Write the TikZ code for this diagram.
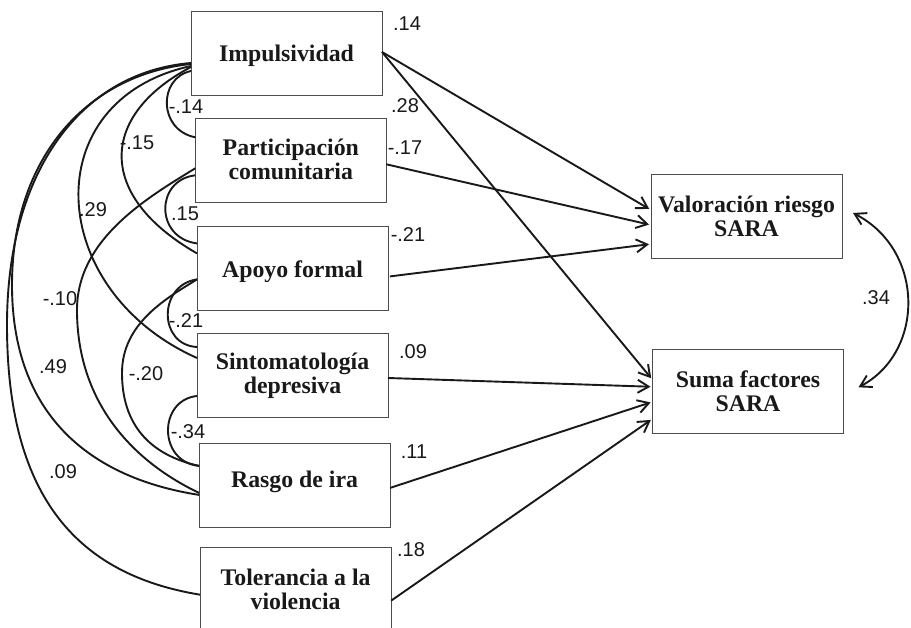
\documentclass[tikz,border=0pt]{standalone}
\usepackage{fontspec}
\setmainfont{Liberation Serif}
\newfontfamily\numfont{Liberation Sans}
\usetikzlibrary{arrows.meta}
\begin{document}
\begin{tikzpicture}[x=1pt,y=-1pt,
  varbox/.style={draw=black!70, line width=0.9pt, minimum width=191pt, minimum height=84pt,
    inner sep=0pt, outer sep=0pt},
  boxtext/.style={inner sep=0pt, align=center,
    font=\fontsize{23.8}{24}\selectfont\bfseries, text=black!90},
  coef/.style={font=\numfont\fontsize{20}{20}\selectfont, inner sep=0pt, text=black!90},
  cov/.style={line width=1.9pt, draw=black!90},
  barb/.tip={Straight Barb[length=11pt,width=13pt]},
  regarrow/.style={line width=1.9pt, draw=black!90, -barb, shorten >=2pt},
]
\clip (0,0) rectangle (911,628);

% variables
\node[varbox] (imp)   at (286.5,53)    {};
\node[varbox] (part)  at (290.8,160.3) {};
\node[varbox] (apoyo) at (292.5,268.4) {};
\node[varbox] (sinto) at (292.5,375.5) {};
\node[varbox] (rasgo) at (294.6,485.9) {};
\node[varbox] (tol)   at (295.6,589.7) {};
\node[varbox] (val)   at (746.5,216)   {};
\node[varbox] (suma)  at (748,391.8)   {};

\node[boxtext] (impt)   at ([yshift=-3pt]imp.center)   {Impulsividad};
\node[boxtext] (partt)  at ([yshift=1pt]part.center)   {Participación\\comunitaria};
\node[boxtext] (apoyot) at ([yshift=-3pt]apoyo.center) {Apoyo formal};
\node[boxtext] (sintot) at (sinto.center)              {Sintomatología\\depresiva};
\node[boxtext] (rasgot) at ([yshift=4pt]rasgo.center)  {Rasgo de ira};
\node[boxtext] (tolt)   at (tol.center)                {Tolerancia a la\\violencia};
\node[boxtext] (valt)   at (val.center)                {Valoración riesgo\\SARA};
\node[boxtext] (sumat)  at ([yshift=1pt]suma.center)   {Suma factores\\SARA};

% regression paths
\draw[regarrow] ([yshift=1pt]imp.east) -- ([yshift=6pt]val.west);
\draw[regarrow] ([yshift=1pt]imp.east) -- ([yshift=12pt]suma.west);
\draw[regarrow] ([yshift=-4pt]part.east) -- ([yshift=-9pt]val.west);
\draw[regarrow] ([xshift=2pt,yshift=-8pt]apoyo.east) -- ([yshift=-28pt]val.west);
\draw[regarrow] ([yshift=-2.5pt]sinto.east) -- ([yshift=5pt]suma.west);
\draw[regarrow] ([yshift=-2pt]rasgo.east) -- ([yshift=-10pt]suma.west);
\draw[regarrow] ([yshift=-11pt]tol.east) -- ([yshift=-27pt]suma.west);

% covariances among predictors
\draw[cov] ([yshift=-18pt]imp.west) .. controls (158,78) and (158,130) .. ([yshift=23pt]part.west);
\draw[cov] ([yshift=-14pt]imp.west) .. controls (100,115) and (95,195) .. ([yshift=15pt]apoyo.west);
\draw[cov] ([yshift=-13pt]imp.west) .. controls (35,100) and (45,290) .. ([yshift=17.5pt]sinto.west);
\draw[cov] ([yshift=-11pt]imp.west) .. controls (85,75) and (12,160) .. (12,285)
           .. controls (12,415) and (90,478) .. ([yshift=-9pt]rasgo.west);
\draw[cov] ([yshift=-10pt]imp.west) .. controls (82,72) and (7,170) .. (7,325)
           .. controls (7,500) and (80,575) .. ([yshift=-5pt]tol.west);
\draw[cov] ([yshift=-8pt]part.west) .. controls (145,199) and (77,240) .. (77,310)
           .. controls (77,400) and (130,460) .. ([yshift=-7pt]rasgo.west);
\draw[cov] ([yshift=-15pt]part.west) .. controls (155,180) and (155,238) .. ([yshift=25pt]apoyo.west);
\draw[cov] ([yshift=-11pt]apoyo.west) .. controls (167,298) and (122,323) .. (122,373)
           .. controls (122,425) and (150,455) .. ([yshift=20pt]rasgo.west);
\draw[cov] ([yshift=-11pt]apoyo.west) .. controls (158,285) and (158,345) .. ([yshift=28.5pt]sinto.west);
\draw[cov] ([yshift=-20.5pt]sinto.west) .. controls (158,400) and (158,462) .. ([yshift=20pt]rasgo.west);

% residual covariance of outcomes
\draw[cov, barb-barb] ([xshift=11pt,yshift=3pt]val.east) .. controls (925,250) and (925,352) .. ([xshift=15pt,yshift=4.5pt]suma.east);

% coefficients
\node[coef] (c1)  at (407,24)  {.14};
\node[coef] (c2)  at (405,106) {.28};
\node[coef] (c3)  at (405,148) {-.17};
\node[coef] (c4)  at (408,235) {-.21};
\node[coef] (c5)  at (413,352) {.09};
\node[coef] (c6)  at (414,452) {.11};
\node[coef] (c7)  at (411,550) {.18};
\node[coef] (c8)  at (876,298) {.34};
\node[coef] (r1)  at (186,107) {-.14};
\node[coef] (r2)  at (137,143) {-.15};
\node[coef] (r3)  at (93,210)  {.29};
\node[coef] (r4)  at (185,214) {.15};
\node[coef] (r5)  at (60,299)  {-.10};
\node[coef] (r6)  at (186,321) {-.21};
\node[coef] (r7)  at (53,367)  {.49};
\node[coef] (r8)  at (146,374) {-.20};
\node[coef] (r9)  at (188,432) {-.34};
\node[coef] (r10) at (63,472)  {.09};
\end{tikzpicture}
\end{document}
